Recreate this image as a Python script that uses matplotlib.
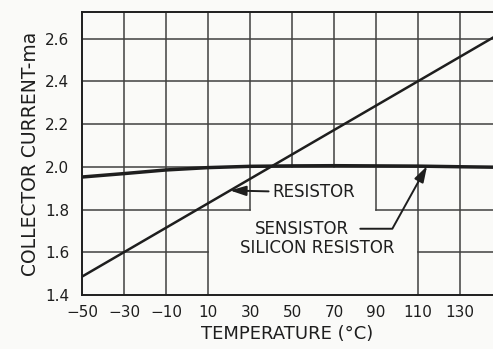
# Collector current vs temperature: plain resistor bias vs sensistor bias

import matplotlib.pyplot as plt

plt.rcParams['font.family'] = ['DejaVu Sans']

INK = '#1e1e1e'
GRID = '#404040'
PAPER = '#fafaf8'

# Sensistor (silicon resistor) compensated curve
sens_temp = [-50, -30, -10, 10, 30, 50, 70, 90, 110, 130, 146]
sens_current = [1.952, 1.968, 1.985, 1.996, 2.002, 2.004, 2.005, 2.004, 2.003, 2.000, 1.998]

# Ordinary resistor: straight line
res_temp = [-50, 146]
res_current = [1.486, 2.606]

x_ticks = [-50, -30, -10, 10, 30, 50, 70, 90, 110, 130]
x_ticklabels = ['\u221250', '\u221230', '\u221210', '10', '30', '50', '70', '90', '110', '130']
y_ticks = [1.4, 1.6, 1.8, 2.0, 2.2, 2.4, 2.6]
y_ticklabels = ['1.4', '1.6', '1.8', '2.0', '2.2', '2.4', '2.6']

XMIN, XMAX = -50, 145.7
YMIN, YMAX = 1.4, 2.724

# grid pieces left open around the labels: (position, start, end)
v_grid = [(-30, YMIN, YMAX), (-10, YMIN, YMAX), (10, YMIN, YMAX),
          (30, 1.8, YMAX), (50, 2.0, YMAX), (70, 2.0, YMAX), (90, 1.8, YMAX),
          (110, YMIN, YMAX), (130, YMIN, YMAX)]
h_grid = [(1.6, XMIN, 10), (1.6, 110, XMAX), (1.8, XMIN, 30), (1.8, 90, XMAX),
          (2.0, XMIN, XMAX), (2.2, XMIN, XMAX), (2.4, XMIN, XMAX), (2.6, XMIN, XMAX)]

fig = plt.figure(figsize=(4.93, 3.49), dpi=100, facecolor=PAPER)
ax = fig.add_axes([82 / 493, 1 - 295 / 349, 411 / 493, 283 / 349])
ax.set_facecolor(PAPER)

for x, y0, y1 in v_grid:
    ax.plot([x, x], [y0, y1], color=GRID, lw=1.1, zorder=1)
for y, x0, x1 in h_grid:
    ax.plot([x0, x1], [y, y], color=GRID, lw=1.1, zorder=1)

ax.plot(res_temp, res_current, color=INK, lw=1.8, zorder=3)
ax.plot(sens_temp, sens_current, color=INK, lw=2.5, zorder=3)

ax.set_xlim(XMIN, XMAX)
ax.set_ylim(YMIN, YMAX)
ax.spines['right'].set_visible(False)
for side in ['left', 'top', 'bottom']:
    ax.spines[side].set_color(INK)
    ax.spines[side].set_linewidth(1.4)

ax.set_xticks(x_ticks)
ax.set_xticklabels(x_ticklabels)
ax.set_yticks(y_ticks)
ax.set_yticklabels(y_ticklabels)
ax.tick_params(axis='x', length=0, pad=7, labelsize=11, colors=INK)
ax.tick_params(axis='y', length=0, pad=9, labelsize=11, colors=INK)

ax.set_xlabel('TEMPERATURE (\u00b0C)', fontsize=13, color=INK, labelpad=4)
ax.set_ylabel('COLLECTOR CURRENT-ma', fontsize=13.5, color=INK, labelpad=4)

arrow = dict(arrowstyle='-|>,head_length=0.8,head_width=0.25', color=INK, lw=1.4)

ax.annotate('RESISTOR', xy=(20.5, 1.889), xytext=(40.5, 1.880),
            ha='left', va='center', fontsize=12, color=INK,
            arrowprops=dict(arrow, shrinkA=0.5, shrinkB=0))

ax.annotate('SENSISTOR', xy=(114.3, 2.003), xytext=(32.4, 1.710),
            ha='left', va='center', fontsize=12, color=INK,
            arrowprops=dict(arrow, shrinkA=6, shrinkB=0,
                            connectionstyle='angle,angleA=0,angleB=61,rad=0'))
ax.text(25.2, 1.622, 'SILICON RESISTOR', ha='left', va='center',
        fontsize=12, color=INK)

fig.savefig('out.png', dpi=100, facecolor=PAPER)
